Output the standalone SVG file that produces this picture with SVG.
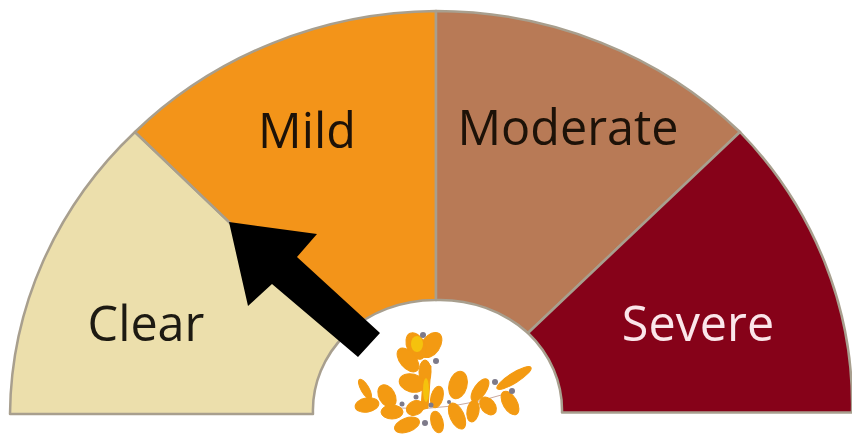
<svg xmlns="http://www.w3.org/2000/svg" width="852" height="437" viewBox="0 0 852 437">
<style>
.s{stroke:#a89f8e;stroke-width:2.5;stroke-linejoin:round}
.t{font-family:"Open Sans","Liberation Sans",sans-serif;font-size:48.5px;text-anchor:middle}
.l{fill:#f39a12;stroke:#f39a12;stroke-width:1}
.d{fill:#7d7a8a}
</style>
<rect width="852" height="437" fill="#fff"/>
<g id="clear"><path class="s" fill="#ecdfac" d="M10 414A426 403 0 0 1 135 132L346 334A124 112 0 0 0 313 414Z"/><text class="t" x="146" y="341" fill="#1d1a12">Clear</text></g>
<g id="mild"><path class="s" fill="#f39419" d="M135 132A426 403 0 0 1 436 11V300A124 112 0 0 0 346 334Z"/><text class="t" x="307" y="148" fill="#1d1208">Mild</text></g>
<g id="moderate"><path class="s" fill="#b87a56" d="M436 11A426 403 0 0 1 740 132L528 333A124 112 0 0 0 436 300Z"/><text class="t" x="568" y="145" fill="#1d1208">Moderate</text></g>
<g id="severe"><path class="s" fill="#860219" d="M740 132A426 403 0 0 1 852 412.500H562A124 112 0 0 0 528 333Z"/><text class="t" x="698" y="341" fill="#fbe6ea">Severe</text></g>
<g id="pointer"><path fill="#000" d="M229 222L317 234L297 257L380 333L358 357L272 284L248 306Z"/></g>
<g id="logo">
<path d="M398 408Q450 412 512 392" fill="none" stroke="#c9a9a0" stroke-width="1"/>
<g class="l">
<path d="M424 362L431 366L428 408L421 410Z"/>
<ellipse cx="431" cy="345" rx="9" ry="14" transform="rotate(35 431 345)"/>
<ellipse cx="416" cy="346" rx="9" ry="14" transform="rotate(-25 416 346)"/>
<ellipse cx="408" cy="360" rx="8" ry="14" transform="rotate(-40 408 360)"/>
<ellipse cx="425" cy="372" rx="6" ry="12"/>
<ellipse cx="412" cy="383" rx="13" ry="9" transform="rotate(15 412 383)"/>
<ellipse cx="365" cy="389" rx="4" ry="11" transform="rotate(-30 365 389)"/>
<ellipse cx="367" cy="405" rx="12" ry="7" transform="rotate(-10 367 405)"/>
<ellipse cx="387" cy="396" rx="8" ry="12" transform="rotate(-30 387 396)"/>
<ellipse cx="392" cy="412" rx="11" ry="7"/>
<ellipse cx="407" cy="425" rx="13" ry="7" transform="rotate(-20 407 425)"/>
<ellipse cx="415" cy="408" rx="9" ry="7" transform="rotate(-25 415 408)"/>
<ellipse cx="437" cy="397" rx="6" ry="11" transform="rotate(15 437 397)"/>
<ellipse cx="437" cy="422" rx="6" ry="11" transform="rotate(-15 437 422)"/>
<ellipse cx="458" cy="385" rx="9" ry="14" transform="rotate(15 458 385)"/>
<ellipse cx="457" cy="416" rx="7" ry="14" transform="rotate(-25 457 416)"/>
<ellipse cx="473" cy="411" rx="6" ry="11" transform="rotate(10 473 411)"/>
<ellipse cx="480" cy="390" rx="6" ry="13" transform="rotate(35 480 390)"/>
<ellipse cx="488" cy="406" rx="7" ry="10" transform="rotate(-40 488 406)"/>
<ellipse cx="514" cy="378" rx="20" ry="5" transform="rotate(-32 514 378)"/>
<ellipse cx="510" cy="403" rx="7" ry="13" transform="rotate(-30 510 403)"/>
</g>
<ellipse cx="417" cy="344" rx="6" ry="8" fill="#f5c20d"/>
<ellipse cx="426" cy="390" rx="3" ry="12" fill="#f5c20d"/>
<g class="d">
<circle cx="423" cy="335" r="3"/><circle cx="436" cy="361" r="3"/><circle cx="416" cy="397" r="2.500"/><circle cx="402" cy="404" r="2.500"/><circle cx="431" cy="405" r="2.500"/><circle cx="449" cy="402" r="2"/><circle cx="425" cy="423" r="3"/><circle cx="495" cy="382" r="3"/><circle cx="512" cy="391" r="3"/>
</g>
</g>
</svg>
